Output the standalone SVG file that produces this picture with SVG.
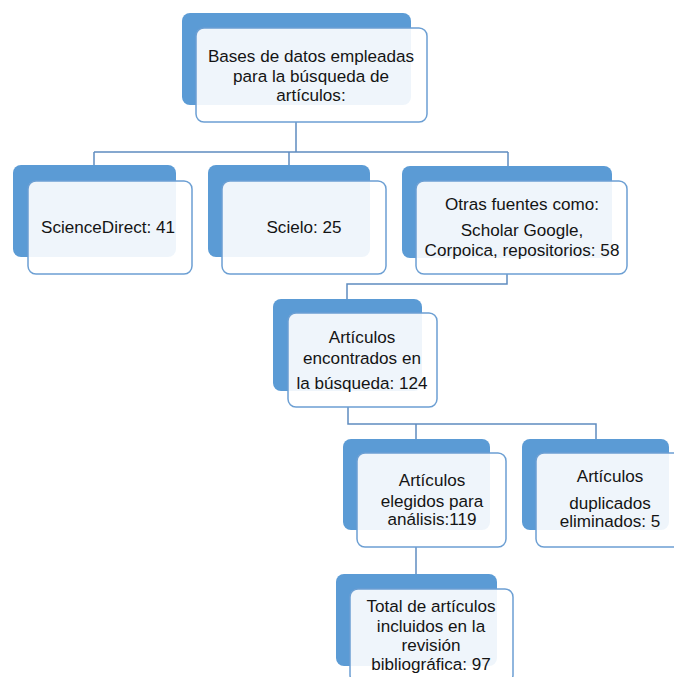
<svg xmlns="http://www.w3.org/2000/svg" width="674" height="677" viewBox="0 0 674 677">
<style>
.bk{fill:#5B9BD5}
.fr{fill:#fff;fill-opacity:0.9;stroke:#6C9FD3;stroke-width:1.5}
.cn{fill:none;stroke:#5F8CC0;stroke-width:1.5}
text{font-family:"Liberation Sans",Arial,sans-serif;font-size:17.1px;fill:#141414;text-anchor:middle}
</style>
<rect width="674" height="677" fill="#fff"/>
<g id="connectors">
<path class="cn" d="M296 122V152M94 152H508M94 152V166M289 152V166M508 152V166"/>
<path class="cn" d="M507 274V284H347V300"/>
<path class="cn" d="M348 407V424H596V440M416 424V440"/>
<path class="cn" d="M416 547V575"/>
</g>
<g id="n1">
<rect class="bk" x="182" y="13" width="229" height="92" rx="8"/>
<rect class="fr" x="196" y="28" width="231" height="94" rx="8"/>
<text x="311" y="62">Bases de datos empleadas</text>
<text x="311" y="82">para la búsqueda de</text>
<text x="311" y="101">artículos:</text>
</g>
<g id="n2">
<rect class="bk" x="13" y="165" width="163" height="92" rx="8"/>
<rect class="fr" x="28" y="181" width="164" height="93" rx="8"/>
<text x="108" y="233">ScienceDirect: 41</text>
</g>
<g id="n3">
<rect class="bk" x="208" y="165" width="162" height="92" rx="8"/>
<rect class="fr" x="222" y="181" width="164" height="93" rx="8"/>
<text x="304" y="233">Scielo: 25</text>
</g>
<g id="n4">
<rect class="bk" x="402" y="166" width="210" height="92" rx="8"/>
<rect class="fr" x="416" y="181" width="211" height="93" rx="8"/>
<text x="522" y="210">Otras fuentes como:</text>
<text x="522" y="236">Scholar Google,</text>
<text x="522" y="256">Corpoica, repositorios: 58</text>
</g>
<g id="n5">
<rect class="bk" x="273" y="299" width="149" height="92" rx="8"/>
<rect class="fr" x="288" y="313" width="149" height="94" rx="8"/>
<text x="362" y="343">Artículos</text>
<text x="362" y="364">encontrados en</text>
<text x="362" y="389">la búsqueda: 124</text>
</g>
<g id="n6">
<rect class="bk" x="343" y="439" width="147" height="91" rx="8"/>
<rect class="fr" x="357" y="453" width="149" height="94" rx="8"/>
<text x="432" y="486">Artículos</text>
<text x="432" y="507">elegidos para</text>
<text x="432" y="525">análisis:119</text>
</g>
<g id="n7">
<rect class="bk" x="522" y="439" width="147" height="91" rx="8"/>
<rect class="fr" x="536" y="453" width="149" height="94" rx="8"/>
<text x="610" y="482">Artículos</text>
<text x="610" y="509">duplicados</text>
<text x="610" y="527">eliminados: 5</text>
</g>
<g id="n8">
<rect class="bk" x="336" y="574" width="161" height="92" rx="8"/>
<rect class="fr" x="350" y="589" width="163" height="94" rx="8"/>
<text x="431" y="612">Total de artículos</text>
<text x="431" y="632">incluidos en la</text>
<text x="431" y="651">revisión</text>
<text x="431" y="670">bibliográfica: 97</text>
</g>
</svg>
